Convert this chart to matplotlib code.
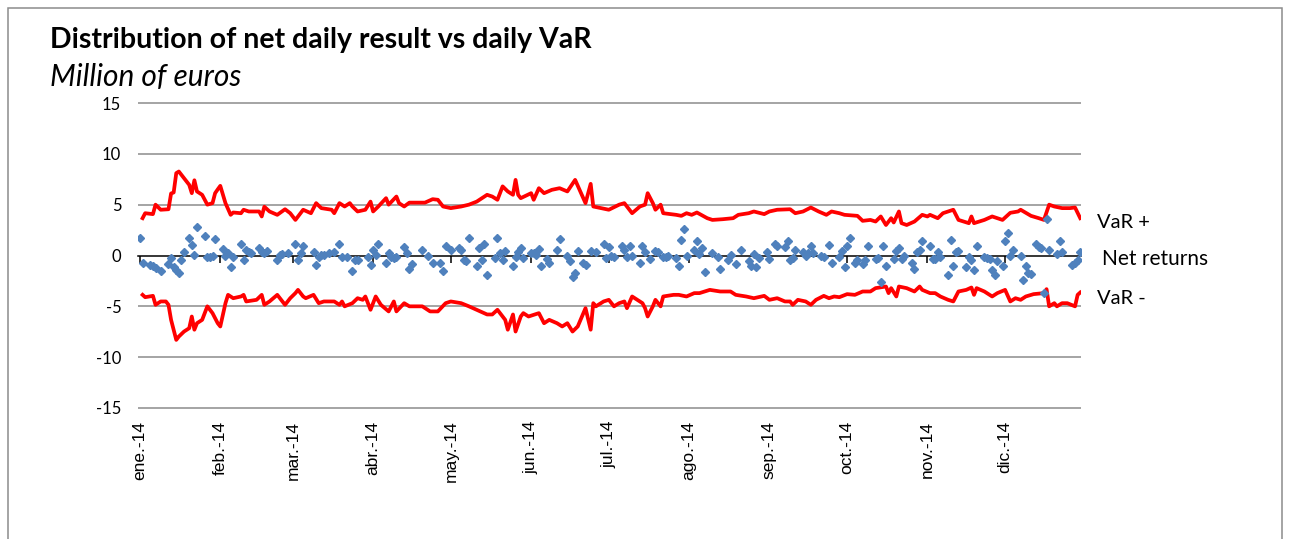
import numpy as np
import pandas as pd
import matplotlib
matplotlib.use("Agg")
import matplotlib.pyplot as plt
import matplotlib.dates as mdates
from matplotlib.patches import Rectangle

# ---------------- data (day of year 2014, value in million EUR) ----------------
var_pos_day = [2, 3, 6, 7, 9, 12, 13, 14, 15, 16, 18, 20, 21, 22, 23, 25, 27, 29, 30, 31, 32, 34, 36, 37, 40, 41, 43, 47, 48, 49, 51, 54, 57, 59,
               61, 64, 67, 69, 71, 75, 76, 78, 80, 82, 83, 85, 88, 90, 91, 93, 96, 97, 100, 101, 103, 105, 111, 114, 116, 118, 121,
               125, 128, 131, 135, 137, 139, 141, 143, 145, 146, 147, 148, 152, 153, 155, 157, 160, 163, 166, 169, 173, 175, 176, 179,
               182, 186, 188, 191, 194, 196, 197, 199, 200, 202, 203, 208, 210, 212, 214, 216, 220, 222, 226, 230, 232, 236, 238, 242, 244,
               247, 252, 254, 257, 260, 263, 266, 268, 271, 273, 278, 280, 283, 285, 287, 289, 291, 292, 294, 295, 297, 300, 303, 305, 306,
               309, 311, 315, 317, 321, 322, 323, 327, 330, 334, 337, 340, 341, 345, 348, 350, 352, 354, 357, 360, 362, 364]
var_pos = [3.67, 4.16, 4.07, 5.0, 4.5, 4.55, 6.1, 6.2, 8.1, 8.26, 7.6, 6.95, 6.13, 7.4, 6.3, 5.97, 5.0, 5.15, 6.13, 6.5, 6.85, 5.15, 4.0, 4.23, 4.16, 4.5, 4.33, 4.33, 3.84, 4.8, 4.33, 4.0, 4.55, 4.16,
           3.5, 4.5, 4.16, 5.15, 4.66, 4.5, 4.16, 5.15, 4.82, 5.15, 4.82, 4.33, 4.5, 5.3, 4.33, 4.82, 5.64, 5.0, 5.8, 5.15, 4.82, 5.2, 5.2, 5.54, 5.48, 4.82, 4.66,
           4.82, 5.0, 5.3, 5.97, 5.8, 5.48, 6.8, 6.3, 5.97, 7.44, 5.97, 5.64, 6.13, 5.48, 6.62, 6.13, 6.46, 6.62, 6.3, 7.44, 5.15, 7.05, 4.82, 4.66,
           4.5, 5.0, 5.15, 4.16, 4.82, 5.0, 6.13, 5.15, 4.5, 5.0, 4.16, 4.0, 3.9, 4.16, 4.0, 4.23, 3.67, 3.5, 3.57, 3.67, 4.0, 4.16, 4.33, 4.07, 4.33,
           4.5, 4.55, 4.16, 4.33, 4.72, 4.33, 4.0, 4.33, 4.16, 4.0, 3.9, 3.41, 3.5, 3.34, 3.84, 3.0, 3.67, 3.25, 4.33, 3.18, 3.0, 3.34, 4.0, 3.84, 4.0,
           3.67, 4.16, 4.5, 3.5, 3.18, 3.84, 3.18, 3.5, 3.84, 3.5, 4.2, 4.33, 4.5, 3.9, 3.67, 3.5, 5.0, 4.82, 4.66, 4.66, 4.72, 3.67]

var_neg_day = [2, 3, 6, 7, 9, 11, 12, 13, 15, 16, 18, 20, 21, 22, 23, 25, 27, 29, 31, 32, 34, 35, 37, 40, 41, 42, 46, 48, 49, 51, 54, 57, 59,
               61, 62, 64, 65, 68, 70, 72, 76, 78, 79, 80, 83, 85, 87, 88, 90, 92, 94, 97, 99, 100, 103, 105, 110, 113, 116, 119, 121,
               125, 128, 131, 135, 137, 139, 142, 143, 145, 146, 148, 149, 151, 155, 157, 159, 162, 164, 166, 168, 170, 173, 175, 176, 177, 180, 182,
               184, 186, 188, 189, 191, 193, 195, 196, 197, 199, 200, 202, 203, 207, 209, 212, 215, 217, 221, 225, 229, 231, 235, 238, 242, 244,
               247, 250, 252, 253, 255, 258, 260, 262, 265, 267, 269, 271, 274, 277, 280, 283, 285, 289, 290, 291, 293, 294, 297, 300, 302, 303, 306,
               308, 310, 313, 315, 317, 320, 322, 323, 324, 327, 330, 332, 335, 337, 339, 341, 343, 346, 350, 351, 352, 354, 355, 357, 359, 362, 363, 364]
var_neg = [-3.87, -4.1, -3.97, -4.85, -4.52, -4.52, -4.85, -6.33, -8.3, -7.97, -7.48, -7.15, -6.0, -7.3, -6.66, -6.33, -5.0, -5.67, -6.66, -6.98, -4.69, -3.87, -4.2, -4.03, -3.87, -4.52, -4.36, -3.87, -4.85, -4.52, -3.87, -4.85, -4.2,
           -3.7, -3.38, -4.03, -4.2, -3.87, -4.69, -4.52, -4.52, -4.85, -4.52, -5.0, -4.69, -4.2, -4.36, -4.03, -5.34, -4.03, -4.85, -5.5, -4.52, -5.5, -4.69, -5.0, -5.0, -5.5, -5.5, -4.69, -4.52,
           -4.69, -5.0, -5.34, -5.8, -5.8, -5.34, -6.33, -7.3, -5.8, -7.48, -6.0, -5.67, -6.0, -5.67, -6.66, -6.33, -6.66, -6.98, -6.66, -7.48, -6.98, -5.18, -7.3, -4.69, -5.0, -4.52, -4.36,
           -5.0, -4.69, -4.52, -5.18, -4.03, -4.36, -4.69, -5.18, -6.0, -5.0, -4.36, -5.0, -4.03, -3.87, -3.87, -4.03, -3.7, -3.7, -3.38, -3.54, -3.54, -3.87, -4.03, -4.2, -3.97, -4.36,
           -4.2, -4.52, -4.52, -4.85, -4.36, -4.52, -4.85, -4.36, -3.97, -4.2, -4.03, -4.1, -3.8, -3.87, -3.54, -3.54, -3.21, -3.05, -3.7, -3.21, -4.03, -3.05, -3.21, -3.54, -3.05, -3.38, -3.7,
           -3.7, -4.03, -4.36, -4.52, -3.54, -3.38, -3.15, -3.87, -3.21, -3.54, -4.03, -3.7, -3.38, -4.52, -4.2, -4.36, -4.03, -3.8, -3.7, -3.31, -5.0, -4.69, -5.0, -4.69, -4.69, -5.0, -3.87, -3.64]

net_day = [1, 2, 5, 6, 7, 9, 12, 13, 14, 15, 16, 17, 18, 20, 21, 22, 23, 26, 27, 28, 29, 30, 33, 34, 35, 36, 37, 40, 41, 42, 43, 44, 47, 48, 49, 50,
           54, 55, 56, 58, 61, 62, 63, 64, 68, 69, 70, 71, 72, 74, 76, 78, 79, 81, 83, 84, 85, 89, 90, 91, 92, 93, 96, 97, 98, 99, 100,
           103, 104, 105, 106, 110, 112, 114, 117, 118, 119,
           121, 124, 125, 126, 127, 128, 131, 132, 133, 134, 135, 138, 139, 140, 141, 142, 145, 146, 147, 148, 149, 152, 153, 154, 155, 156,
           158, 159, 162, 163, 166, 167, 168, 169, 170, 172, 173, 175, 177, 180, 181, 182, 183, 184, 187, 188, 189, 190, 191, 194, 195, 196,
           198, 200, 201, 203, 204, 205, 208, 209, 210, 211, 212, 215, 216, 217, 218, 219, 222, 224, 225, 228, 229, 231, 233, 236, 237, 238,
           239, 240, 243,
           244, 246, 247, 250, 251, 252, 253, 254, 257, 258, 259, 260, 261, 264, 265, 267, 268, 271, 272, 273, 274, 275, 277, 278, 280, 281,
           282, 285, 286, 287, 288, 289, 292, 293, 294, 295, 296, 299, 300, 301, 302, 303,
           306, 307, 308, 309, 310, 313, 314, 315, 316, 317, 320, 321, 322, 323, 324, 327, 328, 329, 330, 331, 332, 334, 335, 336, 337, 338,
           341, 342, 343, 344, 345, 347, 348, 349, 350, 351, 352, 355, 356, 357, 361, 362, 363, 364]
net_ret = [1.70, -0.69, -0.92, -1.02, -1.25, -1.57, -0.82, -0.26, -1.15, -1.41, -1.74, -0.43, 0.30, 1.70, 1.05, 0.07, 2.85, 1.87, -0.16, -0.10, -0.03, 1.61,
           0.62, -0.03, 0.23, -1.15, -0.16, 1.11, -0.43, 0.56, 0.39, 0.23, 0.72, 0.39, 0.23, 0.49,
           -0.49, 0.07, 0.16, 0.23, 1.15, -0.43, 0.23, 0.89, 0.39, -0.92, -0.10, 0.07, 0.07, 0.23, 0.30, 1.15, -0.16, -0.10, -1.48, -0.49, -0.49,
           -0.10, -0.95, 0.56, 0.07, 1.15, -0.69, 0.23, -0.10, -0.26, -0.10,
           0.82, 0.23, -1.34, -0.82, 0.56, -0.03, -0.75, -0.69, -1.48, 0.95,
           0.56, 0.72, 0.56, -0.49, -0.59, 1.77, -1.02, 0.72, -0.49, 1.11, -1.90, -0.26, 1.77, 0.23, -0.43, 0.46, -1.08, -0.10, 0.39, 0.72, -0.26,
           0.23, 0.23, 0.07, 0.66, -1.02,
           -0.36, -0.69, 0.56, 1.61, -0.03, -0.59, -2.13, -1.74, 0.49, -0.69, -0.92, 0.49, 0.39, 1.15, -0.26, 0.82, -0.03, -0.16, 0.95, 0.56,
           -0.10, 0.98, -0.03, -0.75, 0.89, 0.39,
           -0.36, 0.46, 0.33, -0.16, -0.16, -0.03, -0.26, -1.08, 1.54, 2.59, -0.03, 0.56, 1.44, 0.16, 0.72, -1.67, 0.23, -0.16, -1.34, -0.49,
           0.07, -0.82, 0.56, -0.59, -1.02, 0.16,
           -1.15, -0.26, 0.39,
           -0.36, 1.15, 0.95, 0.82, 1.38, -0.43, -0.26, 0.56, 0.39, -0.03, 0.23, 0.95, 0.23, -0.03, -0.10, 1.05, -0.69, -0.16, 0.49, -1.15,
           0.89, 1.74, -0.69, -0.49, -0.82, -0.43,
           0.95, -0.36, -0.26, -2.56, 0.89, -1.08, -0.36, 0.49, 0.72, -0.36, -0.03, -0.69, -1.34, 0.39, 0.56, 1.44,
           0.95, -0.36, -0.36, 0.39, -0.16, -1.90, 1.54, -1.08, 0.39, 0.49, -1.15, -0.10, -0.49, -1.41, 0.95, -0.10, -0.26, -0.36, -1.41,
           -1.90, -0.59, -1.08, 1.38, 2.26, -0.03, 0.56,
           -0.03, -2.39, -1.02, -1.74, -1.80, 1.15, 0.82, 0.72, -3.70, 3.61, 0.56, 0.16, 1.38, 0.30, -0.92, -0.69, -0.43, 0.30]

month_labels = ["ene.-14", "feb.-14", "mar.-14", "abr.-14", "may.-14", "jun.-14",
                "jul.-14", "ago.-14", "sep.-14", "oct.-14", "nov.-14", "dic.-14"]
y_ticks = [-15, -10, -5, 0, 5, 10, 15]
y_tick_labels = ["-15", "-10", "-5", "0", "5", "10", "15"]
title = "Distribution of net daily result vs daily VaR"
subtitle = "Million of euros"
series_labels = ["VaR +", "Net returns", "VaR -"]

# ---------------- helpers ----------------
start = pd.Timestamp("2014-01-01")


def to_dates(days):
    return start + pd.to_timedelta(np.asarray(days) - 1, unit="D")


W, H = 1289, 539
fig = plt.figure(figsize=(W / 100, H / 100), dpi=100)
fig.patch.set_facecolor("white")

# outer frame of the chart
fig.patches.append(Rectangle((8 / W, -0.05), (1282 - 8) / W, 1.05 - 8 / H,
                             transform=fig.transFigure, fill=False,
                             edgecolor="#8c8c8c", lw=1.1))

pad_units = 0.15
px_per_unit = 305 / 30
ax_top = 103 - pad_units * px_per_unit
ax_bot = 408 + pad_units * px_per_unit
ax = fig.add_axes([138 / W, 1 - ax_bot / H, (1081 - 138) / W, (ax_bot - ax_top) / H])

x0 = mdates.date2num(start)
ax.set_xlim(x0 - 0.77, x0 + 363.3)
ax.set_ylim(-15 - pad_units, 15 + pad_units)

# grid
for yv in y_ticks:
    if yv != 0:
        ax.axhline(yv, color="#8c8c8c", lw=1.1, zorder=1)

for s in ["top", "right", "left"]:
    ax.spines[s].set_visible(False)
ax.spines["bottom"].set_position(("data", 0))
ax.spines["bottom"].set_color("black")
ax.spines["bottom"].set_linewidth(1.1)
ax.spines["bottom"].set_zorder(2)

month_starts = pd.date_range("2014-01-01", periods=12, freq="MS")
month_nums = mdates.date2num(month_starts)
ax.set_xticks(month_nums)
ax.tick_params(axis="x", direction="out", length=5, width=1.1, color="black",
               labelbottom=False)

ax.set_yticks(y_ticks)
ax.set_yticklabels(y_tick_labels, fontfamily="Lato", fontsize=12, color="black")
ax.tick_params(axis="y", length=0, pad=12)

# month labels below the plot
sec = ax.secondary_xaxis(0.0)
sec.set_xticks(month_nums)
sec.set_xticklabels(month_labels, rotation=90, fontfamily="Liberation Sans",
                    fontsize=12.5, va="top", ha="center")
sec.tick_params(length=0, pad=8)
sec.spines["bottom"].set_visible(False)

# series
ax.plot(to_dates(var_pos_day), var_pos, color="#ff0000", lw=2.7,
        solid_joinstyle="round", zorder=3)
ax.plot(to_dates(var_neg_day), var_neg, color="#ff0000", lw=2.7,
        solid_joinstyle="round", zorder=3)
ax.plot(to_dates(net_day), net_ret, linestyle="none", marker="D",
        markersize=3.8, color="#4f81bd", markeredgecolor="#4f81bd", zorder=4)

# titles
fig.text(50 / W, 1 - 48 / H, title, fontfamily="Lato", fontweight="bold",
         fontsize=20.5, va="baseline", ha="left")
fig.text(50 / W, 1 - 86 / H, subtitle, fontfamily="Lato", fontstyle="italic",
         fontsize=21.5, va="baseline", ha="left")

# series labels on the right
fig.text(1097 / W, 1 - 222 / H, series_labels[0], fontfamily="Lato", fontsize=14.5, va="center")
fig.text(1102 / W, 1 - 259 / H, series_labels[1], fontfamily="Lato", fontsize=15, va="center")
fig.text(1097 / W, 1 - 298 / H, series_labels[2], fontfamily="Lato", fontsize=14.5, va="center")

fig.savefig("out.png", dpi=100)
